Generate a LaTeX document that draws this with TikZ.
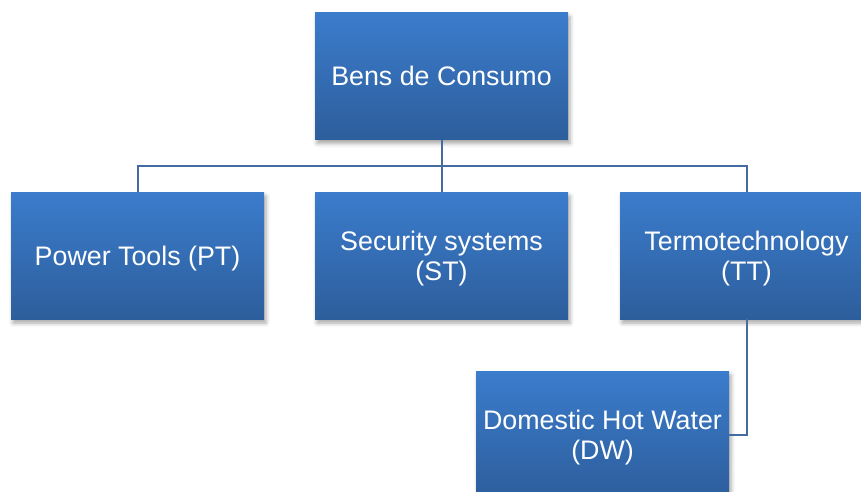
\documentclass[tikz,border=0pt]{standalone}
\usepackage{fontspec}
\setmainfont{Liberation Sans}
\usetikzlibrary{shadows.blur,calc}
\definecolor{boxtop}{RGB}{59,124,204}
\definecolor{boxbot}{RGB}{45,94,156}
\definecolor{linkcol}{RGB}{68,108,162}
\tikzset{
  x=1pt, y=1pt,
  orgbox/.style={rectangle, minimum width=253pt, minimum height=127pt,
    inner sep=0pt, top color=boxtop, bottom color=boxbot, draw=none,
    text=white, align=center, font=\fontsize{26.8}{30}\selectfont,
    text depth=0pt,
    blur shadow={shadow xshift=2pt, shadow yshift=-4pt, shadow blur radius=4pt, shadow opacity=35}},
  link/.style={draw=linkcol, line width=2pt}
}
\begin{document}
\begin{tikzpicture}
\useasboundingbox (0,0) rectangle (861,-492);
\clip (0,0) rectangle (861,-492);
% boxes
\node[orgbox] (top) at (441.5,-76) {Bens de Consumo};
\node[orgbox] (pt) at (137.5,-255.5) {Power Tools (PT)};
\node[orgbox] (st) at (441.5,-255.5) {Security systems\\(ST)};
\node[orgbox] (tt) at (746.5,-255.5) {Termotechnology\\(TT)};
\node[orgbox] (dw) at (602.5,-434.5) {Domestic Hot Water\\(DW)};
% connectors
\coordinate (bus) at (441.5,-166);
\draw[link] (top.south) -- (bus);
\draw[link] (bus) -| (pt.north);
\draw[link] (bus) -- (st.north);
\draw[link] (bus) -| (tt.north);
\draw[link] (tt.south) |- (dw.east);
\end{tikzpicture}
\end{document}
